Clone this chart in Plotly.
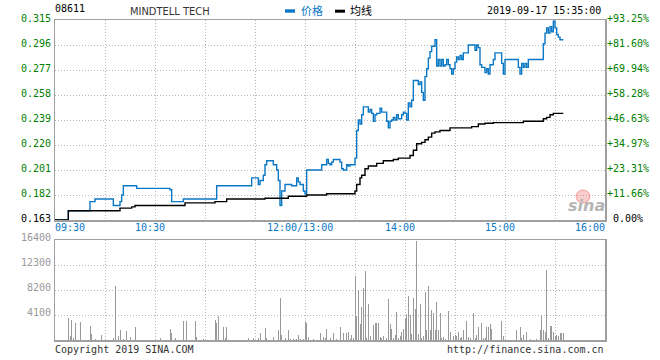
import plotly.graph_objects as go

# ---------------- data ----------------
prev_close = 0.163

price_times = ["09:30", "09:38", "09:51", "09:54", "10:05", "10:09", "10:10", "10:11", "10:19",
               "10:39", "10:40", "10:47", "11:07", "11:28", "11:32", "11:33", "11:35", "11:36",
               "11:37", "11:41", "11:43", "11:44", "11:45", "11:46", "11:48", "11:52", "11:55",
               "11:56", "11:57", "11:59", "12:00", "13:01", "13:10", "13:13", "13:14", "13:15",
               "13:16", "13:17", "13:21", "13:22", "13:23", "13:25", "13:26", "13:27", "13:30",
               "13:31", "13:32", "13:33", "13:34", "13:35", "13:38", "13:39", "13:40", "13:41",
               "13:42", "13:43", "13:45", "13:46", "13:49", "13:50", "13:51", "13:52", "13:53",
               "13:54", "13:55", "13:56", "13:58", "13:59", "14:00", "14:01", "14:02", "14:03",
               "14:04", "14:05", "14:08", "14:09", "14:10", "14:11", "14:12", "14:13", "14:14",
               "14:15", "14:16", "14:18", "14:19", "14:20", "14:21", "14:22", "14:23", "14:24",
               "14:25", "14:26", "14:27", "14:28", "14:29", "14:30", "14:31", "14:32", "14:33",
               "14:34", "14:35", "14:38", "14:42", "14:43", "14:44", "14:45", "14:46", "14:48",
               "14:49", "14:50", "14:51", "14:53", "14:54", "14:58", "14:59", "15:00", "15:08",
               "15:09", "15:10", "15:11", "15:12", "15:13", "15:14", "15:23", "15:24", "15:25",
               "15:26", "15:27", "15:28", "15:29", "15:30", "15:31", "15:32", "15:33", "15:35"]
price_vals = [0.163, 0.170, 0.177, 0.179, 0.174, 0.177, 0.182, 0.189, 0.187,
              0.186, 0.177, 0.179, 0.189, 0.195, 0.190, 0.193, 0.197, 0.205,
              0.208, 0.205, 0.201, 0.193, 0.174, 0.185, 0.190, 0.189, 0.195,
              0.192, 0.190, 0.185, 0.183, 0.201, 0.205, 0.209, 0.206, 0.205,
              0.207, 0.209, 0.207, 0.202, 0.201, 0.205, 0.204, 0.205, 0.210,
              0.231, 0.239, 0.236, 0.243, 0.249, 0.245, 0.247, 0.244, 0.238,
              0.243, 0.244, 0.248, 0.245, 0.238, 0.233, 0.238, 0.239, 0.241,
              0.239, 0.243, 0.240, 0.243, 0.245, 0.244, 0.239, 0.252, 0.249,
              0.254, 0.269, 0.266, 0.268, 0.260, 0.254, 0.272, 0.278, 0.286,
              0.291, 0.295, 0.300, 0.280, 0.285, 0.280, 0.285, 0.280, 0.281,
              0.285, 0.281, 0.278, 0.274, 0.278, 0.283, 0.287, 0.285, 0.288,
              0.285, 0.290, 0.296, 0.292, 0.296, 0.294, 0.281, 0.279, 0.275,
              0.278, 0.274, 0.281, 0.285, 0.290, 0.282, 0.274, 0.285, 0.279,
              0.274, 0.282, 0.279, 0.282, 0.279, 0.285, 0.297, 0.305, 0.309,
              0.305, 0.310, 0.306, 0.314, 0.309, 0.304, 0.302, 0.300, 0.300]

avg_times = ["09:30", "09:38", "10:09", "10:16", "10:18", "10:48", "11:06", "11:13", "11:36",
             "11:50", "13:01", "13:13", "13:30", "13:31", "13:33", "13:34", "13:36", "13:38",
             "13:43", "13:47", "13:53", "13:56", "14:03", "14:05", "14:07", "14:10", "14:12",
             "14:14", "14:16", "14:18", "14:21", "14:27", "14:40", "14:44", "14:48", "14:53",
             "15:11", "15:23", "15:25", "15:27", "15:29", "15:35"]
avg_vals = [0.163, 0.170, 0.172, 0.173, 0.174, 0.176, 0.177, 0.179, 0.1795,
            0.181, 0.182, 0.183, 0.185, 0.190, 0.195, 0.197, 0.202, 0.204,
            0.206, 0.208, 0.209, 0.210, 0.212, 0.216, 0.221, 0.222, 0.224,
            0.226, 0.229, 0.230, 0.231, 0.233, 0.234, 0.236, 0.2365, 0.237,
            0.238, 0.240, 0.241, 0.243, 0.244, 0.244]

vol_times = ["09:38", "09:39", "09:40", "09:41", "09:42", "09:45", "09:51", "09:52", "09:54",
             "09:58", "10:05", "10:06", "10:08", "10:09", "10:11", "10:13", "10:15", "10:18",
             "10:33", "10:39", "10:40", "10:42", "10:47", "10:49", "10:54", "10:55", "10:59",
             "11:06", "11:07", "11:08", "11:11", "11:12", "11:13", "11:26", "11:29", "11:32",
             "11:33", "11:36", "11:37", "11:41", "11:44", "11:45", "11:46", "11:48", "11:50",
             "11:51", "11:53", "11:55", "11:56", "11:57", "11:59", "13:00", "13:01", "13:02",
             "13:05", "13:09", "13:11", "13:12", "13:13", "13:15", "13:17", "13:19", "13:21",
             "13:23", "13:25", "13:26", "13:27", "13:28", "13:29", "13:30", "13:31", "13:32",
             "13:33", "13:34", "13:35", "13:36", "13:37", "13:38", "13:39", "13:41", "13:42",
             "13:43", "13:44", "13:45", "13:46", "13:47", "13:49", "13:50", "13:51", "13:52",
             "13:53", "13:54", "13:55", "13:56", "13:57", "13:58", "13:59", "14:00", "14:01",
             "14:02", "14:03", "14:04", "14:05", "14:06", "14:07", "14:08", "14:09", "14:10",
             "14:11", "14:12", "14:13", "14:14", "14:15", "14:16", "14:17", "14:18", "14:19",
             "14:20", "14:21", "14:22", "14:23", "14:24", "14:26", "14:27", "14:29", "14:30",
             "14:31", "14:32", "14:33", "14:34", "14:35", "14:37", "14:38", "14:39", "14:41",
             "14:42", "14:43", "14:44", "14:46", "14:47", "14:48", "14:49", "14:50", "14:51",
             "14:52", "14:58", "14:59", "15:07", "15:09", "15:10", "15:11", "15:13", "15:15",
             "15:19", "15:21", "15:22", "15:23", "15:24", "15:25", "15:26", "15:27", "15:28",
             "15:29", "15:30", "15:31", "15:32", "15:33", "15:34", "15:35"]
vol_vals = [3550, 650, 3280, 380, 2840, 2950, 2300, 980, 160,
            820, 270, 8850, 650, 1640, 160, 1480, 440, 2080,
            270, 1800, 1090, 330, 3120, 3120, 3120, 490, 160,
            3280, 2840, 3940, 2190, 380, 2190, 330, 330, 380,
            1200, 2020, 380, 490, 1700, 6940, 820, 380, 1700,
            160, 160, 160, 820, 160, 160, 2950, 2840, 490,
            160, 1150, 490, 330, 1800, 270, 1090, 160, 2080,
            1090, 1090, 1370, 160, 820, 380, 10500, 3940, 8200,
            2570, 5360, 8470, 11320, 380, 5900, 650, 2460, 2730,
            2730, 2730, 440, 380, 650, 270, 6720, 2570, 1860,
            270, 820, 4590, 270, 710, 1310, 1750, 3390, 4260,
            7220, 4100, 930, 6830, 5140, 16250, 980, 5900, 270,
            650, 7870, 1640, 8860, 1640, 4920, 4480, 1640, 6290,
            1640, 4480, 270, 550, 220, 4760, 1370, 650, 820,
            650, 1370, 270, 440, 1640, 3170, 440, 270, 4370,
            270, 820, 2080, 2840, 380, 270, 2190, 2080, 2570,
            1800, 3120, 650, 1640, 2080, 270, 820, 1370, 160,
            160, 1700, 4100, 1700, 1370, 11480, 380, 2300, 2300,
            1370, 650, 880, 650, 1090, 1090, 1090]

price_ticks = [0.163, 0.182, 0.201, 0.220, 0.239, 0.258, 0.277, 0.296, 0.315]
pct_labels = ["0.00%", "+11.66%", "+23.31%", "+34.97%", "+46.63%", "+58.28%",
              "+69.94%", "+81.60%", "+93.25%"]
vol_ticks = [4100, 8200, 12300, 16400]
time_labels = ["09:30", "10:30", "12:00/13:00", "14:00", "15:00", "16:00"]
grid_minutes = [30, 60, 90, 120, 150, 180, 210, 240, 270, 300]

stock_code = "08611"
stock_name = "MINDTELL TECH"
stamp = "2019-09-17 15:35:00"


def tmin(t):
    """trading-minute index (morning 09:30-12:00, afternoon 13:00-16:00)"""
    h, m = map(int, t.split("/")[0].split(":"))
    total = h * 60 + m
    if total <= 720:
        return total - 570
    return total - 780 + 150


# ---------------- geometry ----------------
W, H = 660, 360
ML, MT = 55, 20
PW, PH = 550, 320
MR, MB = W - ML - PW, H - MT - PH
BLUE = "#0b78c5"
GREEN = "#008000"
FRAME = "#a0a0a0"
GRID = "#b8b8b8"
MONO = "DejaVu Sans Mono"
CJK = "Noto Sans CJK SC"


def pxx(x):
    return (x - ML) / PW


def pxy(y):
    return (MT + PH - y) / PH


fig = go.Figure()
fig.add_trace(go.Bar(x=[tmin(t) for t in vol_times], y=vol_vals, width=0.6,
                     marker=dict(color="#9a9a9a", line=dict(width=0)),
                     xaxis="x2", yaxis="y2", hoverinfo="skip"))
fig.add_trace(go.Scatter(x=[tmin(t) for t in price_times], y=price_vals, mode="lines",
                         line=dict(color=BLUE, width=1.4, shape="hv"),
                         xaxis="x", yaxis="y", hoverinfo="skip"))
fig.add_trace(go.Scatter(x=[tmin(t) for t in avg_times], y=avg_vals, mode="lines",
                         line=dict(color="#000000", width=1.4, shape="hv"),
                         xaxis="x", yaxis="y", hoverinfo="skip"))

axis_common = dict(showgrid=True, gridcolor=GRID, gridwidth=1, griddash="1px,2px",
                   showline=True, mirror=True, linecolor=FRAME, linewidth=1.5,
                   zeroline=False, showticklabels=False, ticks="", fixedrange=True)

fig.update_layout(
    width=W, height=H, margin=dict(l=ML, r=MR, t=MT, b=MB, pad=0),
    paper_bgcolor="white", plot_bgcolor="white", showlegend=False,
    bargap=0,
    xaxis=dict(domain=[0, 1], range=[0, 330], anchor="y", tickvals=grid_minutes, **axis_common),
    yaxis=dict(domain=[pxy(220), 1], range=[price_ticks[0], price_ticks[-1]], anchor="x",
               tickvals=price_ticks[1:-1], **axis_common),
    xaxis2=dict(domain=[0, 1], range=[0, 330], anchor="y2", tickvals=grid_minutes, **axis_common),
    yaxis2=dict(domain=[0, pxy(240)], range=[0, vol_ticks[-1]], anchor="x2",
                tickvals=vol_ticks[:-1], **axis_common),
)

ann = []


def add(text, x, y, xanchor="center", color="#000", size=10, family=MONO,
        xref="paper", yref="paper", xshift=0, yshift=0):
    ann.append(dict(text=text, x=x, y=y, xref=xref, yref=yref, xanchor=xanchor,
                    yanchor="middle", showarrow=False, borderpad=0, borderwidth=0,
                    xshift=xshift, yshift=yshift,
                    font=dict(family=family, size=size, color=color)))


# price axis labels
for i, v in enumerate(price_ticks):
    add(f"{v:.3f}", 0, v, "right", "#000" if i == 0 else GREEN, 10, yref="y",
        xshift=-4, yshift=2)
    add(pct_labels[i], 1, v, "left", "#000" if i == 0 else GREEN, 10, yref="y",
        xshift=8 if i == 0 else 2, yshift=2)

# volume axis labels
for v in vol_ticks:
    add(str(v), 0, v, "right", "#999999", 10, yref="y2", xshift=-4, yshift=3)

# time labels
for t in time_labels:
    m = tmin(t)
    if m == 0:
        add(t, m, pxy(227), "left", BLUE, 10, xref="x")
    elif m == 330:
        add(t, m, pxy(227), "right", BLUE, 10, xref="x")
    else:
        add(t, m, pxy(227), "center", BLUE, 10, xref="x", xshift=-5)

# header
add(stock_code, pxx(55), pxy(9), "left", "#000", 10)
add(stock_name, pxx(170), pxy(11), "center", "#333333", 11, "DejaVu Sans Condensed")
add("价格", pxx(301), pxy(10.5), "left", BLUE, 11, CJK)
add("均线", pxx(350), pxy(10.5), "left", "#000", 11, CJK)
add(stamp, pxx(601), pxy(10), "right", "#000", 10)

# footer
add("Copyright 2019 SINA.COM", pxx(55), pxy(349.5), "left", "#333333", 10)
add("http://finance.sina.com.cn", pxx(604), pxy(349.5), "right", "#333333", 10)

# watermark
add("<i><b>sina</b></i>", pxx(586), pxy(205), "center", "#b5b5b5", 16, "DejaVu Sans")

fig.update_layout(annotations=ann)

shapes = [
    dict(type="rect", xref="paper", yref="paper", x0=pxx(285), x1=pxx(295),
         y0=pxy(12.7), y1=pxy(9.3), fillcolor=BLUE, line=dict(width=0)),
    dict(type="rect", xref="paper", yref="paper", x0=pxx(335), x1=pxx(345),
         y0=pxy(12.7), y1=pxy(9.7), fillcolor="#000", line=dict(width=0)),
    dict(type="circle", xref="paper", yref="paper", x0=pxx(576), x1=pxx(590),
         y0=pxy(203), y1=pxy(190), fillcolor="rgba(240,110,110,0.35)",
         line=dict(color="rgba(235,90,90,0.5)", width=1)),
]
fig.update_layout(shapes=shapes)

# remove the browser's default 8px body margin so the 660x360 figure fills the window
fig.write_html("out.html", config={"displayModeBar": False, "staticPlot": True},
               post_script="document.body.style.margin='0';")
